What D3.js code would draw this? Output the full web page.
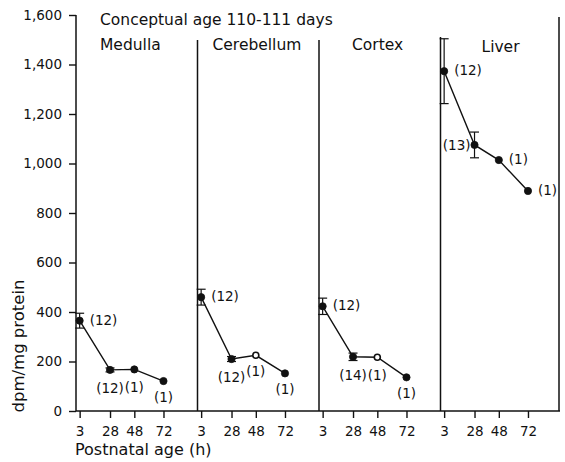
<!DOCTYPE html>
<html><head><meta charset="utf-8">
<script src="https://cdn.jsdelivr.net/npm/d3@7"></script>
<style>body{margin:0;background:#fff}svg{display:block}text{font-family:"DejaVu Sans",sans-serif;fill:#111}</style>
</head><body>
<script>
const panels = ["Medulla", "Cerebellum", "Cortex", "Liver"];
const hours = [3, 28, 48, 72];
const hourLabels = ["3", "28", "48", "72"];
const yTicks = [0, 200, 400, 600, 800, 1000, 1200, 1400, 1600];
const title = "Conceptual age 110-111 days";
const yTitle = "dpm/mg protein";
const xTitle = "Postnatal age (h)";

const medulla = [365, 166, 168, 121];
const medullaErr = [30, 8, 0, 0];
const medullaN = [12, 12, 1, 1];
const cerebellum = [460, 210, 225, 152];
const cerebellumErr = [32, 10, 0, 0];
const cerebellumN = [12, 12, 1, 1];
const cortex = [423, 219, 217, 136];
const cortexErr = [33, 15, 0, 0];
const cortexN = [12, 14, 1, 1];
const liver = [1373, 1075, 1014, 889];
const liverErr = [131, 52, 0, 0];
const liverN = [12, 13, 1, 1];

const series = [
  {values: medulla, err: medullaErr, n: medullaN},
  {values: cerebellum, err: cerebellumErr, n: cerebellumN},
  {values: cortex, err: cortexErr, n: cortexN},
  {values: liver, err: liverErr, n: liverN}
];
// label placement & marker style (presentation, not data)
const placement = [
  ["right", "below", "below", "below72"],
  ["right", "below", "belowS", "below72"],
  ["right", "below", "below", "below72"],
  ["right", "left", "right", "right"]
];
const hollow = [
  [false, false, false, false],
  [false, false, true, false],
  [false, false, true, false],
  [false, false, false, false]
];

const W = 565, H = 462;
const svg = d3.select("body").append("svg").attr("width", W).attr("height", H);

const y = d3.scaleLinear().domain([0, 1600]).range([411, 15]);
const panelX = d3.scaleLinear().domain([0, 4]).range([76, 562]);
const inner = d3.scaleLinear().domain([0, 100]).range([0, 121.5]);
const xOf = (p, h) => panelX(p) + inner(h);

// y axis
const yAxis = d3.axisLeft(y).tickValues(yTicks).tickFormat(d3.format(",")).tickSize(7).tickPadding(7);
const ya = svg.append("g").attr("transform", "translate(76,0)").call(yAxis);
ya.select(".domain").remove();
ya.selectAll(".tick line").attr("stroke", "#111").attr("stroke-width", 1.4);
ya.selectAll(".tick text").attr("font-size", 13.5).attr("font-family", "DejaVu Sans").attr("fill", "#111");
svg.append("line").attr("x1", 76).attr("x2", 76).attr("y1", y(1600)).attr("y2", y(0))
  .attr("stroke", "#111").attr("stroke-width", 1.5);

// x axis line
svg.append("line").attr("x1", 76).attr("x2", 560).attr("y1", y(0)).attr("y2", y(0))
  .attr("stroke", "#111").attr("stroke-width", 1.5);

panels.forEach((name, p) => {
  const xs = d3.scaleLinear().domain([0, 100]).range([panelX(p), panelX(p) + 121.5]);
  const xa = d3.axisBottom(xs).tickValues(hours).tickFormat((d, i) => hourLabels[i]).tickSize(7).tickPadding(8);
  const g = svg.append("g").attr("transform", `translate(0,${y(0)})`).call(xa);
  g.select(".domain").remove();
  g.selectAll(".tick line").attr("stroke", "#111").attr("stroke-width", 1.4);
  g.selectAll(".tick text").attr("font-size", 13.5).attr("font-family", "DejaVu Sans").attr("fill", "#111");
});

// dividers
[1, 2, 3].forEach(p => {
  svg.append("line").attr("x1", panelX(p)).attr("x2", panelX(p)).attr("y1", p === 3 ? 37 : 40).attr("y2", y(0))
    .attr("stroke", "#111").attr("stroke-width", 1.5);
});
svg.append("line").attr("x1", 559).attr("x2", 559).attr("y1", 17).attr("y2", y(0))
  .attr("stroke", "#111").attr("stroke-width", 1.5);

// titles
svg.append("text").attr("x", 100).attr("y", 25).attr("font-size", 15.5).text(title);
const titleOffsets = [24, 15, 33, 41];
panels.forEach((name, p) => {
  svg.append("text").attr("x", panelX(p) + titleOffsets[p]).attr("y", p === 3 ? 52 : 50)
    .attr("font-size", 15.5).text(name);
});
svg.append("text").attr("transform", "rotate(-90)").attr("x", -346).attr("y", 24)
  .attr("text-anchor", "middle").attr("font-size", 16.5).text(yTitle);
svg.append("text").attr("x", 75).attr("y", 455).attr("font-size", 16).text(xTitle);

// data
series.forEach((s, p) => {
  const pts = hours.map((h, i) => [xOf(p, h), y(s.values[i])]);
  svg.append("path").attr("d", d3.line()(pts)).attr("fill", "none").attr("stroke", "#111").attr("stroke-width", 1.4);
  hours.forEach((h, i) => {
    const cx = xOf(p, h);
    if (s.err[i] > 0) {
      const y1 = y(s.values[i] + s.err[i]), y2 = y(s.values[i] - s.err[i]);
      const g = svg.append("g").attr("stroke", "#111").attr("stroke-width", 1.2);
      g.append("line").attr("x1", cx).attr("x2", cx).attr("y1", y1).attr("y2", y2);
      g.append("line").attr("x1", cx - 4.5).attr("x2", cx + 4.5).attr("y1", y1).attr("y2", y1);
      g.append("line").attr("x1", cx - 4.5).attr("x2", cx + 4.5).attr("y1", y2).attr("y2", y2);
    }
    svg.append("circle").attr("cx", cx).attr("cy", y(s.values[i])).attr("r", hollow[p][i] ? 3 : 3.6)
      .attr("fill", hollow[p][i] ? "#fff" : "#111").attr("stroke", "#111").attr("stroke-width", hollow[p][i] ? 1.6 : 0.8);
    const pl = placement[p][i];
    const cy = y(s.values[i]);
    const t = svg.append("text").attr("font-size", 13.5).text(`(${s.n[i]})`);
    if (pl === "right") t.attr("x", cx + 10).attr("y", cy + 4);
    else if (pl === "left") t.attr("x", cx - 4).attr("y", cy + 5).attr("text-anchor", "end");
    else if (pl === "below") t.attr("x", cx).attr("y", cy + 23).attr("text-anchor", "middle");
    else if (pl === "belowS") t.attr("x", cx).attr("y", cy + 21).attr("text-anchor", "middle");
    else t.attr("x", cx).attr("y", cy + 21).attr("text-anchor", "middle");
  });
});
</script>
</body></html>
